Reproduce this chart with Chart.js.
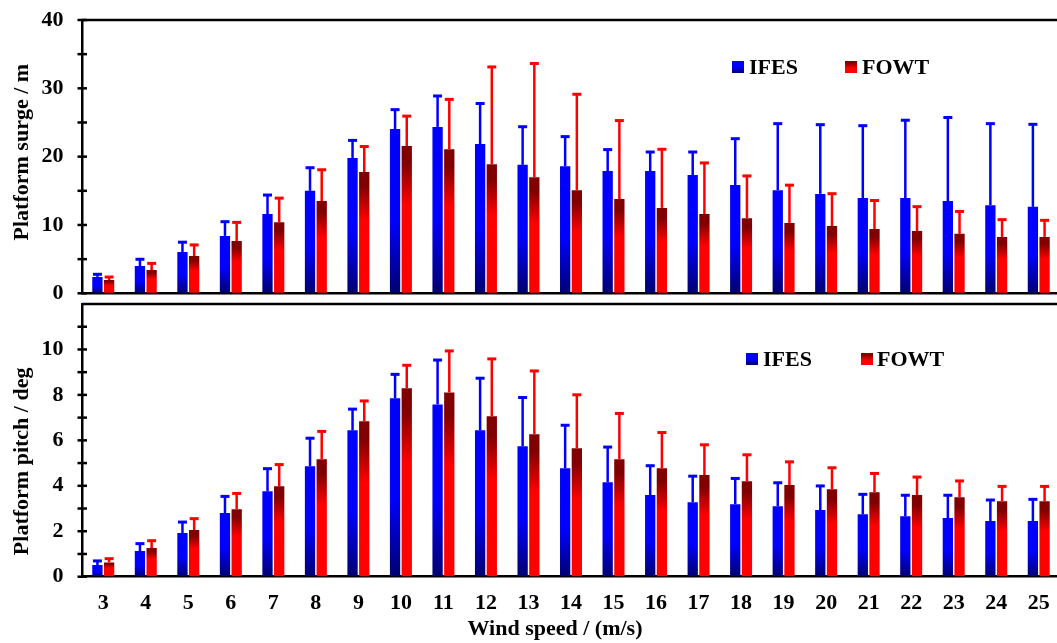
<!DOCTYPE html>
<html lang="en">
  <head>
    <meta charset="UTF-8" />
    <title>Platform surge and pitch</title>
    <script src="https://cdn.jsdelivr.net/npm/chart.js"></script>
    <style>
      * {
        margin: 0;
        padding: 0;
        box-sizing: border-box;
      }

      body {
        width: 1057px;
        height: 643px;
        overflow: hidden;
        background: #fff;
        position: relative;
        font-family: "Liberation Serif", "Times New Roman", serif;
      }

      canvas {
        position: absolute;
        left: 0;
      }

      #surgeChart {
        top: 0;
      }

      #pitchChart {
        top: 300px;
      }

      .key {
        position: absolute;
        font-weight: bold;
        font-size: 22px;
        line-height: 22px;
        color: #000;
        white-space: nowrap;
      }

      .swatch {
        position: absolute;
        width: 12px;
        height: 12px;
      }

      .swatch.ifes {
        background: linear-gradient(to bottom, #0000ff 0%, #0000ff 45%, #000078 100%);
      }

      .swatch.fowt {
        background: linear-gradient(to bottom, #800000 0%, #800000 15%, #ff0000 60%, #ff0000 100%);
      }
    </style>
  </head>
  <body>
    <canvas id="surgeChart" width="1062" height="300"></canvas>
    <canvas id="pitchChart" width="1062" height="343"></canvas>

    <!-- legends -->
    <div class="swatch ifes" style="left: 732px; top: 61px"></div>
    <div class="key" id="surgeKey1" style="left: 749px; top: 55.6px"></div>
    <div class="swatch fowt" style="left: 845px; top: 61px"></div>
    <div class="key" id="surgeKey2" style="left: 862px; top: 55.6px"></div>

    <div class="swatch ifes" style="left: 746px; top: 353px"></div>
    <div class="key" id="pitchKey1" style="left: 763px; top: 347.6px"></div>
    <div class="swatch fowt" style="left: 861px; top: 353px"></div>
    <div class="key" id="pitchKey2" style="left: 877px; top: 347.6px"></div>

    <script>
      // wind speed bins (m/s)
      const windSpeeds = [3, 4, 5, 6, 7, 8, 9, 10, 11, 12, 13, 14, 15, 16, 17, 18, 19, 20, 21, 22, 23, 24, 25];
      const seriesNames = ["IFES", "FOWT"];

      // platform surge, mean and upper deviation (m)
      const surgeIFES = [2.4, 4.0, 6.05, 8.4, 11.6, 15.0, 19.8, 24.05, 24.35, 21.85, 18.8, 18.6, 17.9, 17.9, 17.3, 15.85, 15.1, 14.55, 13.95, 13.95, 13.5, 12.9, 12.65];
      const surgeIFESErr = [0.6, 1.2, 1.65, 2.3, 3.0, 3.6, 2.8, 3.05, 4.75, 6.15, 5.8, 4.55, 3.35, 3.0, 3.6, 7.0, 9.95, 10.35, 10.8, 11.6, 12.45, 12.15, 12.3];
      const surgeFOWT = [1.95, 3.4, 5.45, 7.65, 10.4, 13.5, 17.75, 21.55, 21.1, 18.9, 17.0, 15.1, 13.8, 12.5, 11.6, 11.0, 10.3, 9.85, 9.4, 9.1, 8.7, 8.25, 8.25];
      const surgeFOWTErr = [0.65, 1.2, 1.85, 2.95, 3.75, 4.8, 3.95, 4.6, 7.5, 14.45, 16.85, 14.25, 11.7, 8.8, 7.7, 6.4, 5.75, 4.95, 4.4, 3.8, 3.5, 2.75, 2.65];

      // platform pitch, mean and upper deviation (deg)
      const pitchIFES = [0.51, 1.13, 1.92, 2.8, 3.76, 4.86, 6.44, 7.85, 7.58, 6.44, 5.74, 4.77, 4.16, 3.59, 3.28, 3.19, 3.1, 2.93, 2.75, 2.66, 2.58, 2.45, 2.45];
      const pitchIFESErr = [0.25, 0.39, 0.55, 0.8, 1.06, 1.3, 1.0, 1.12, 2.02, 2.36, 2.21, 1.96, 1.61, 1.36, 1.21, 1.2, 1.1, 1.13, 0.94, 0.99, 1.07, 0.99, 1.02];
      const pitchFOWT = [0.63, 1.26, 2.05, 2.97, 3.98, 5.17, 6.84, 8.29, 8.11, 7.06, 6.27, 5.65, 5.17, 4.77, 4.47, 4.2, 4.03, 3.85, 3.72, 3.59, 3.5, 3.32, 3.32];
      const pitchFOWTErr = [0.23, 0.39, 0.57, 0.76, 1.02, 1.29, 0.96, 1.08, 1.89, 2.59, 2.85, 2.42, 2.08, 1.64, 1.4, 1.23, 1.09, 1.01, 0.89, 0.86, 0.78, 0.72, 0.72];

      const FONT_FAMILY = "'Liberation Serif', 'Times New Roman', serif";
      const labelFont = { family: FONT_FAMILY, size: 22, weight: "bold" };

      const blueStops = [[0, "#0000ff"], [0.55, "#0000ff"], [1, "#000070"]];
      const redStops = [[0, "#800000"], [0.12, "#800000"], [0.4, "#ff0000"], [1, "#ff0000"]];

      document.getElementById("surgeKey1").textContent = seriesNames[0];
      document.getElementById("surgeKey2").textContent = seriesNames[1];
      document.getElementById("pitchKey1").textContent = seriesNames[0];
      document.getElementById("pitchKey2").textContent = seriesNames[1];

      // vertical gradient spanning each bar from its top down to zero
      function barFill(stops, solid) {
        return (ctx) => {
          const chart = ctx.chart;
          const y = chart.scales.y;
          if (!chart.chartArea || !y || ctx.dataIndex === undefined) return solid;
          const top = y.getPixelForValue(ctx.dataset.data[ctx.dataIndex]);
          const base = y.getPixelForValue(0);
          if (!isFinite(top) || base - top < 1) return solid;
          const g = chart.ctx.createLinearGradient(0, top, 0, base);
          stops.forEach(([o, c]) => g.addColorStop(o, c));
          return g;
        };
      }

      // one-sided (upper) error bars with a flat cap
      const errorBars = {
        id: "errorBars",
        afterDatasetsDraw(chart) {
          const { ctx } = chart;
          const y = chart.scales.y;
          chart.data.datasets.forEach((ds, i) => {
            const meta = chart.getDatasetMeta(i);
            meta.data.forEach((bar, j) => {
              const top = y.getPixelForValue(ds.data[j] + ds.errors[j]);
              ctx.save();
              ctx.strokeStyle = ds.errorColor;
              ctx.fillStyle = ds.errorColor;
              ctx.lineWidth = 2.5;
              ctx.beginPath();
              ctx.moveTo(bar.x, bar.y);
              ctx.lineTo(bar.x, top + 1.5);
              ctx.stroke();
              ctx.fillRect(bar.x - 4.5, top, 9, 3);
              ctx.restore();
            });
          });
        },
      };

      // tick marks crossing the y axis (major + minor) and the top frame line
      const axisFrame = {
        id: "axisFrame",
        afterDraw(chart, args, opts) {
          const { ctx, chartArea } = chart;
          const y = chart.scales.y;
          ctx.save();
          ctx.strokeStyle = "#000";
          ctx.lineWidth = 2.5;
          for (let v = 0; v <= opts.max + 1e-9; v += opts.step) {
            const py = y.getPixelForValue(v);
            ctx.beginPath();
            ctx.moveTo(chartArea.left - 4.5, py);
            ctx.lineTo(chartArea.left + 5, py);
            ctx.stroke();
          }
          ctx.beginPath();
          ctx.moveTo(chartArea.left, chartArea.top);
          ctx.lineTo(chartArea.right, chartArea.top);
          ctx.stroke();
          ctx.restore();
        },
      };

      // axis titles, placed a little off the plot centre
      const axisTitles = {
        id: "axisTitles",
        afterDraw(chart, args, opts) {
          const { ctx, chartArea } = chart;
          ctx.save();
          ctx.fillStyle = "#000";
          ctx.font = "bold 22px " + FONT_FAMILY;
          ctx.textAlign = "center";
          ctx.textBaseline = "middle";
          if (opts.x) {
            ctx.fillText(opts.x, (chartArea.left + chartArea.right) / 2 + opts.xShift, chart.height - 14);
          }
          ctx.translate(22, (chartArea.top + chartArea.bottom) / 2 + opts.yShift);
          ctx.rotate(-Math.PI / 2);
          ctx.fillText(opts.y, 0, 0);
          ctx.restore();
        },
      };

      function makeChart(id, opt) {
        return new Chart(document.getElementById(id), {
          type: "bar",
          data: {
            labels: windSpeeds,
            datasets: [
              {
                label: seriesNames[0],
                data: opt.ifes,
                errors: opt.ifesErr,
                errorColor: "#0000ff",
                backgroundColor: barFill(blueStops, "#0000ff"),
                borderWidth: 0,
                categoryPercentage: 0.55,
                barPercentage: 0.88,
              },
              {
                label: seriesNames[1],
                data: opt.fowt,
                errors: opt.fowtErr,
                errorColor: "#ff0000",
                backgroundColor: barFill(redStops, "#ff0000"),
                borderWidth: 0,
                categoryPercentage: 0.55,
                barPercentage: 0.88,
              },
            ],
          },
          options: {
            responsive: false,
            animation: false,
            layout: { padding: opt.padding },
            plugins: {
              legend: { display: false },
              tooltip: { enabled: false },
              axisFrame: { step: opt.minorStep, max: opt.minorMax },
              axisTitles: { x: opt.xTitle, xShift: -16, y: opt.yTitle, yShift: opt.yShift },
            },
            scales: {
              x: {
                grid: { display: true, drawOnChartArea: false, drawTicks: false },
                border: { display: true, color: "#000", width: 2.5 },
                ticks: {
                  display: !!opt.xTitle,
                  color: "#000",
                  font: labelFont,
                  padding: 13.5,
                  maxRotation: 0,
                  autoSkip: false,
                },
                afterFit(scale) {
                  scale.height = opt.xHeight;
                  scale.paddingLeft = 0;
                  scale.paddingRight = 0;
                },
              },
              y: {
                min: 0,
                max: opt.max,
                grid: { display: true, drawOnChartArea: false, drawTicks: false },
                border: { display: true, color: "#000", width: 2.5 },
                ticks: {
                  stepSize: opt.step,
                  color: "#000",
                  font: labelFont,
                  padding: 18.5,
                  callback: (v) => (v <= opt.lastLabel ? v : ""),
                },
                afterFit(scale) {
                  scale.width = 82;
                  scale.paddingTop = 0;
                  scale.paddingBottom = 0;
                },
              },
            },
          },
          plugins: [errorBars, axisFrame, axisTitles],
        });
      }

      makeChart("surgeChart", {
        ifes: surgeIFES,
        ifesErr: surgeIFESErr,
        fowt: surgeFOWT,
        fowtErr: surgeFOWTErr,
        max: 40,
        step: 10,
        lastLabel: 40,
        minorStep: 5,
        minorMax: 40,
        yTitle: "Platform surge / m",
        yShift: -4.5,
        xTitle: null,
        xHeight: 0,
        padding: { top: 20, right: 2, bottom: 6.7, left: 0 },
      });

      makeChart("pitchChart", {
        ifes: pitchIFES,
        ifesErr: pitchIFESErr,
        fowt: pitchFOWT,
        fowtErr: pitchFOWTErr,
        max: 12,
        step: 2,
        lastLabel: 10,
        minorStep: 1,
        minorMax: 11,
        yTitle: "Platform pitch / deg",
        yShift: 21,
        xTitle: "Wind speed / (m/s)",
        xHeight: 66.3,
        padding: { top: 4, right: 2, bottom: 0, left: 0 },
      });
    </script>
  </body>
</html>
